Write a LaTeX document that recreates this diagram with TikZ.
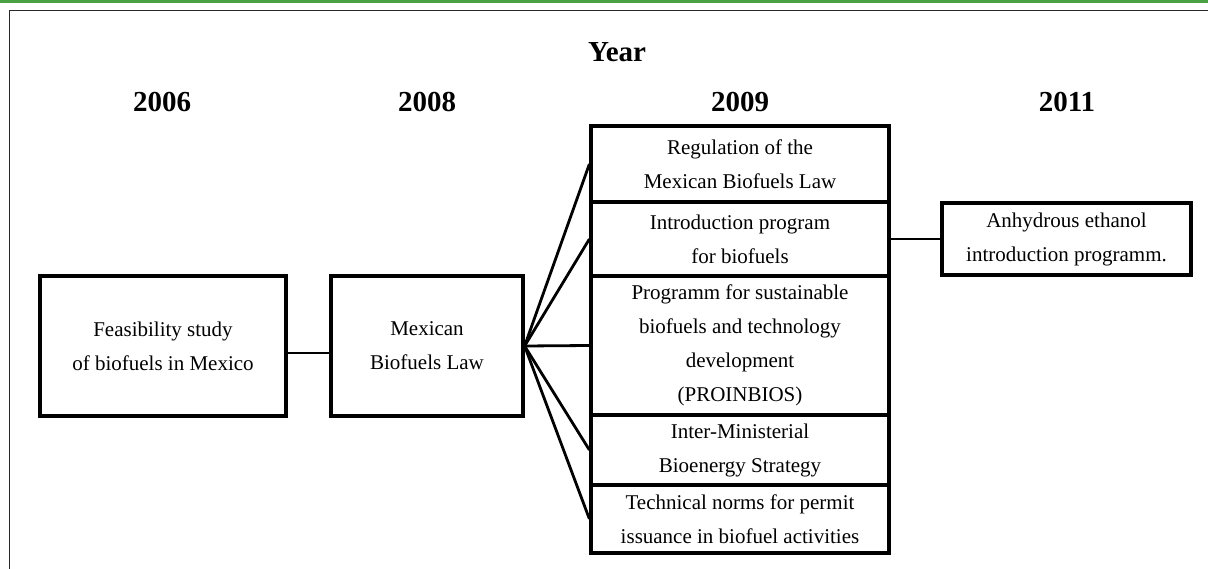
\documentclass[tikz,border=0pt]{standalone}
\usepackage{fontspec}
\setmainfont{Liberation Serif}
\definecolor{topgreen}{RGB}{76,160,68}
\definecolor{framegray}{RGB}{40,40,40}
\begin{document}
\begin{tikzpicture}[x=1pt,y=-1pt,
  box/.style={draw=black,line width=3.2pt,align=center,inner sep=0pt,
    font=\fontsize{21}{34}\selectfont},
  yearlbl/.style={font=\bfseries\fontsize{29}{32}\selectfont,inner sep=0pt},
  link/.style={draw=black,line width=2.8pt}]
\useasboundingbox (0,0) rectangle (1208,569);
\fill[topgreen] (0,0) rectangle (1208,3.5);
\draw[framegray,line width=1.8pt] (9.5,569) -- (9.5,10.5) -- (1208,10.5);
\node[yearlbl] (year) at (617,52) {Year};
\node[yearlbl] (y2006) at (162,102) {2006};
\node[yearlbl] (y2008) at (427,102) {2008};
\node[yearlbl] (y2009) at (740,102) {2009};
\node[yearlbl] (y2011) at (1067,102) {2011};
\node[box,minimum width=246,minimum height=140] (feas) at (163,346) {Feasibility study\\of biofuels in Mexico};
\node[box,minimum width=192,minimum height=140] (law) at (427,346) {Mexican\\Biofuels Law};
\node[box,minimum width=298,minimum height=76] (r1) at (740,164) {Regulation of the\\Mexican Biofuels Law};
\node[box,minimum width=298,minimum height=74] (r2) at (740,239) {Introduction program\\for biofuels};
\node[box,minimum width=298,minimum height=139] (r3) at (740,345.5) {Programm for sustainable\\biofuels and technology\\development\\(PROINBIOS)};
\node[box,minimum width=298,minimum height=70] (r4) at (740,450) {Inter-Ministerial\\Bioenergy Strategy};
\node[box,minimum width=298,minimum height=68] (r5) at (740,519) {Technical norms for permit\\issuance in biofuel activities};
\node[box,minimum width=249,minimum height=72] (r6) at (1066.5,239) {Anhydrous ethanol\\introduction programm.};
\draw[link] ([yshift=-7pt]feas.east) -- ([yshift=-7pt]law.west);
\foreach \t in {r1,r2,r3,r4,r5} \draw[link] (law.east) -- (\t.west);
\draw[link] (r2.east) -- (r6.west);
\end{tikzpicture}
\end{document}
